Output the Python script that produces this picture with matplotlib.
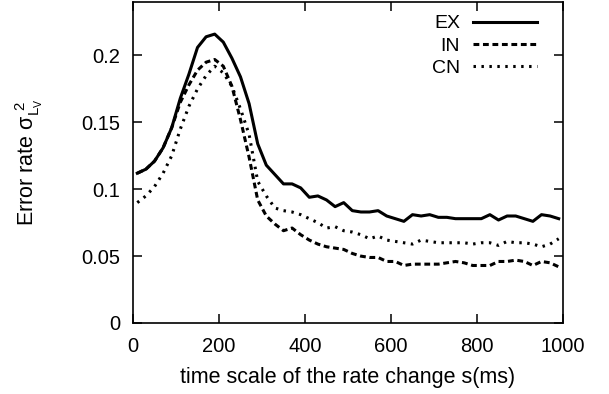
import numpy as np
import matplotlib
matplotlib.use("Agg")
import matplotlib.pyplot as plt

plt.rcParams.update({
    "font.family": ["Liberation Sans", "DejaVu Sans"],
    "mathtext.fontset": "custom",
    "mathtext.rm": "Liberation Sans",
    "mathtext.it": "Liberation Sans",
    "mathtext.sf": "Liberation Sans",
})

# time scale s (ms), one point every 20 ms
s = np.arange(10, 1000, 20)

ex = [0.112, 0.115, 0.121, 0.131, 0.146, 0.168, 0.186, 0.206, 0.214, 0.216,
      0.210, 0.198, 0.184, 0.164, 0.134, 0.118, 0.111, 0.104, 0.104, 0.101,
      0.094, 0.095, 0.092, 0.087, 0.090, 0.084, 0.083, 0.083, 0.084, 0.080,
      0.078, 0.076, 0.081, 0.080, 0.081, 0.079, 0.079, 0.078, 0.078, 0.078,
      0.078, 0.081, 0.077, 0.080, 0.080, 0.078, 0.076, 0.081, 0.080, 0.078]

inh = [0.112, 0.115, 0.121, 0.131, 0.146, 0.165, 0.178, 0.189, 0.195, 0.197,
       0.192, 0.177, 0.152, 0.124, 0.092, 0.080, 0.074, 0.069, 0.071, 0.066,
       0.062, 0.059, 0.057, 0.056, 0.055, 0.052, 0.050, 0.049, 0.049, 0.046,
       0.046, 0.043, 0.044, 0.044, 0.044, 0.044, 0.045, 0.046, 0.045, 0.043,
       0.043, 0.043, 0.046, 0.046, 0.047, 0.046, 0.043, 0.046, 0.045, 0.042]

cn = [0.090, 0.095, 0.102, 0.112, 0.125, 0.145, 0.162, 0.175, 0.185, 0.192,
      0.187, 0.177, 0.160, 0.141, 0.106, 0.095, 0.086, 0.084, 0.083, 0.081,
      0.078, 0.075, 0.071, 0.072, 0.069, 0.068, 0.066, 0.063, 0.065, 0.062,
      0.061, 0.060, 0.059, 0.062, 0.061, 0.060, 0.060, 0.060, 0.060, 0.059,
      0.060, 0.060, 0.058, 0.061, 0.060, 0.060, 0.059, 0.057, 0.059, 0.063]

xticks = [0, 200, 400, 600, 800, 1000]
yticks = [0, 0.05, 0.1, 0.15, 0.2]
ytick_labels = ["0", "0.05", "0.1", "0.15", "0.2"]

fig = plt.figure(figsize=(6.09, 3.94), dpi=100)
ax = fig.add_axes([133 / 609, 1 - 323 / 394, 430 / 609, 321 / 394])

ax.plot(s, ex, color="black", lw=2.2, ls="-", label="EX")
ax.plot(s, inh, color="black", lw=2.2, ls=(0, (1.9, 1.2)), label="IN")
ax.plot(s, cn, color="black", lw=2.2, ls=(0, (0.8, 1.8)), label="CN")

ax.set_xlim(0, 1000)
ax.set_ylim(0, 0.24)
ax.set_xticks(xticks)
ax.set_xticklabels([str(t) for t in xticks])
ax.set_yticks(yticks)
ax.set_yticklabels(ytick_labels)
ax.tick_params(direction="in", length=6.5, width=1.1, labelsize=14.5,
               top=True, right=True)
ax.tick_params(axis="x", pad=10)
ax.tick_params(axis="y", pad=9)
for sp in ax.spines.values():
    sp.set_linewidth(1.2)

ax.set_xlabel("time scale of the rate change s(ms)", fontsize=15.5, labelpad=8)
ax.set_ylabel(r"Error rate $\sigma_{L_V}^{\ 2}$", fontsize=15.5)
ax.yaxis.set_label_coords(-88 / 430, 0.5)

ax.legend(loc="upper right", bbox_to_anchor=(1 - 26 / 430, 0.96),
          markerfirst=False, frameon=False, fontsize=14,
          handlelength=3.3, handletextpad=0.65, labelspacing=0.24,
          borderaxespad=0, borderpad=0)

fig.savefig("out.png", dpi=100)
